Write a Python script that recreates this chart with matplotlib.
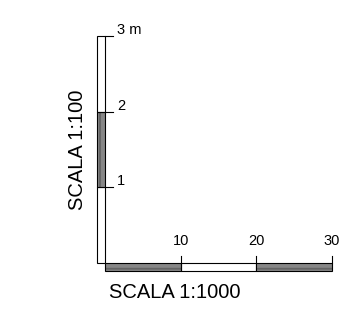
import matplotlib
matplotlib.use('Agg')
import matplotlib.pyplot as plt

plt.rcParams['font.family'] = ['Liberation Sans', 'DejaVu Sans']
plt.rcParams['hatch.linewidth'] = 0.6

# scale bar data
v_edges = [0, 1, 2, 3]                # metres, 1:100
v_hatched = [False, True, False]
v_labels = ['1', '2', '3 m']
h_edges = [0, 10, 20, 30]             # metres, 1:1000
h_hatched = [True, False, True]
h_labels = ['10', '20', '30']

W, H = 343, 319
fig = plt.figure(figsize=(W / 100, H / 100), dpi=100)
fig.patch.set_facecolor('white')


def px_axes(x0, y0, x1, y1):
    # axes from pixel box (top-left origin)
    return fig.add_axes([x0 / W, 1 - y1 / H, (x1 - x0) / W, (y1 - y0) / H])


GRAY = '#444444'

# ── vertical bar (1:100) ──
axv = px_axes(97, 36, 105, 263)
axv.set_xlim(0, 1)
axv.set_ylim(v_edges[0], v_edges[-1])
axv.axis('off')
for lo, hi, hat in zip(v_edges[:-1], v_edges[1:], v_hatched):
    if hat:
        axv.bar(0.5, hi - lo, bottom=lo, width=1, color='white',
                edgecolor=GRAY, hatch='|' * 14, linewidth=0, clip_on=False)
    axv.bar(0.5, hi - lo, bottom=lo, width=1, fill=False,
            edgecolor='black', linewidth=0.8, clip_on=False)
for val, lab in zip(v_edges[1:], v_labels):
    axv.plot([1, 2], [val, val], color='black', lw=0.8, clip_on=False)
    axv.annotate(lab, xy=(1, val), xytext=(12, 6), textcoords='offset pixels',
                 ha='left', va='center', fontsize=10.5)
axv.text(-2.4, 0.5, 'SCALA 1:100', transform=axv.transAxes, rotation=90,
         ha='center', va='center', fontsize=14.5)

# ── horizontal bar (1:1000) ──
axh = px_axes(105, 263, 332, 271)
axh.set_xlim(h_edges[0], h_edges[-1])
axh.set_ylim(0, 1)
axh.axis('off')
for lo, hi, hat in zip(h_edges[:-1], h_edges[1:], h_hatched):
    if hat:
        axh.barh(0.5, hi - lo, left=lo, height=1, color='white',
                 edgecolor=GRAY, hatch='-' * 14, linewidth=0, clip_on=False)
    axh.barh(0.5, hi - lo, left=lo, height=1, fill=False,
             edgecolor='black', linewidth=0.8, clip_on=False)
for val, lab in zip(h_edges[1:], h_labels):
    axh.plot([val, val], [1, 1.9], color='black', lw=0.8, clip_on=False)
    axh.annotate(lab, xy=(val, 1), xytext=(0, 22), textcoords='offset pixels',
                 ha='center', va='center', fontsize=10.5)
axh.text(0.306, -2.75, 'SCALA 1:1000', transform=axh.transAxes,
         ha='center', va='center', fontsize=14.5)

fig.savefig('out.png', dpi=100)
